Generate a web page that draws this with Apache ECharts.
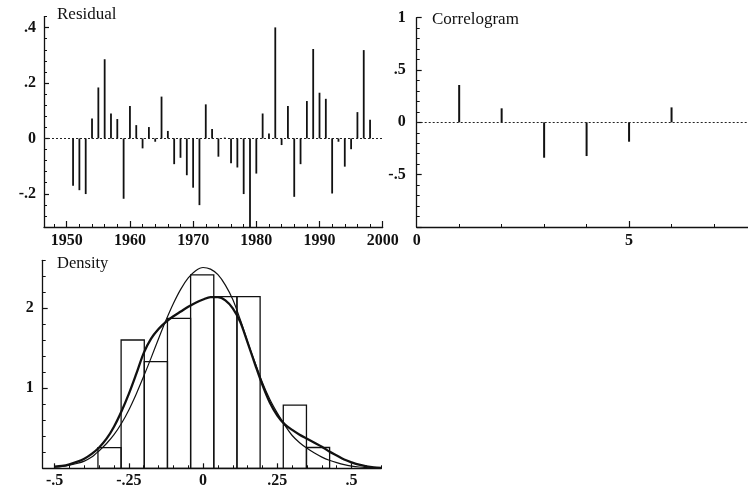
<!DOCTYPE html>
<html><head><meta charset="utf-8">
<script src="https://cdn.jsdelivr.net/npm/echarts@6/dist/echarts.min.js"></script>
<style>html,body{margin:0;padding:0;background:#fff}#c{width:748px;height:491px}</style>
</head><body><div id="c"></div>
<script>
// ---- Residual panel data ----
const years = [1951,1952,1953,1954,1955,1956,1957,1958,1959,1960,1961,1962,1963,1964,1965,1966,1967,1968,1969,1970,1971,1972,1973,1974,1975,1976,1977,1978,1979,1980,1981,1982,1983,1984,1985,1986,1987,1988,1989,1990,1991,1992,1993,1994,1995,1996,1997,1998];
const residuals = [-0.171,-0.187,-0.201,0.072,0.184,0.286,0.090,0.070,-0.218,0.117,0.048,-0.036,0.041,-0.012,0.151,0.027,-0.093,-0.070,-0.133,-0.178,-0.241,0.123,0.034,-0.066,0.003,-0.090,-0.105,-0.201,-0.320,-0.127,0.090,0.018,0.401,-0.024,0.117,-0.211,-0.093,0.135,0.323,0.165,0.143,-0.199,-0.012,-0.102,-0.039,0.095,0.319,0.067];
const residualXTicks = [1950,1960,1970,1980,1990,2000];
const residualYTicks = [-0.2,0,0.2,0.4];

// ---- Correlogram data ----
const lags = [1,2,3,4,5,6];
const acf = [0.357,0.134,-0.338,-0.322,-0.185,0.143];
const corrXTicks = [0,5];
const corrYTicks = [-0.5,0,0.5,1];

// ---- Density data ----
const binEdges = [-0.354,-0.276,-0.198,-0.120,-0.042,0.036,0.114,0.192,0.270,0.348,0.426];
const binHeights = [0.258,1.604,1.333,1.875,2.417,2.146,2.146,0,0.790,0.260];
const curveX  = [-0.5,-0.475,-0.45,-0.425,-0.4,-0.375,-0.35,-0.325,-0.3,-0.275,-0.25,-0.225,-0.2,-0.175,-0.15,-0.125,-0.1,-0.075,-0.05,-0.025,0,0.025,0.05,0.075,0.1,0.125,0.15,0.175,0.2,0.225,0.25,0.275,0.3,0.325,0.35,0.375,0.4,0.425,0.45,0.475,0.5,0.525,0.55,0.575,0.6];
const kernelY = [0.02,0.03,0.05,0.08,0.12,0.18,0.26,0.37,0.52,0.71,0.93,1.18,1.44,1.62,1.74,1.83,1.90,1.96,2.02,2.07,2.11,2.14,2.14,2.10,2.00,1.83,1.57,1.30,1.04,0.82,0.66,0.55,0.48,0.42,0.37,0.32,0.27,0.21,0.16,0.11,0.075,0.045,0.025,0.012,0.005];
const normalY = [0.015,0.025,0.04,0.06,0.09,0.14,0.22,0.31,0.42,0.56,0.73,0.93,1.15,1.38,1.62,1.85,2.06,2.24,2.38,2.47,2.51,2.49,2.42,2.29,2.11,1.86,1.58,1.32,1.07,0.86,0.69,0.54,0.41,0.32,0.25,0.19,0.14,0.10,0.07,0.045,0.028,0.016,0.009,0.005,0.002];
const densXTicks = [-0.5,-0.25,0,0.25,0.5];
const densYTicks = [1,2];

function steps(a, b, s) { const out = []; for (let v = a; v <= b + 1e-9; v += s) out.push(+v.toFixed(4)); return out; }
function fmt(v) {
  if (Math.abs(v) < 1e-9) return '0';
  const s = String(Math.abs(+v.toFixed(4))).replace(/^0\./, '.');
  return (v < 0 ? '-' : '') + s;
}

const FONT = 'Liberation Serif';
const INK = '#111';
const labelStyle = (vals, margin) => ({ show: true, customValues: vals, formatter: fmt, fontFamily: FONT, fontWeight: 'bold', fontSize: 16, color: INK, margin: margin });

function majorAxis(gi, min, max, ticks, labels, tickLen, margin, pos) {
  return {
    type: 'value', gridIndex: gi, min: min, max: max, position: pos,
    axisLine: { show: true, onZero: false, lineStyle: { color: INK, width: 1.3 } },
    axisTick: { show: true, inside: true, length: tickLen, customValues: ticks, lineStyle: { color: INK, width: 1.2 } },
    axisLabel: labelStyle(labels, margin),
    splitLine: { show: false }
  };
}
function minorAxis(gi, min, max, ticks, pos) {
  return {
    type: 'value', gridIndex: gi, min: min, max: max, position: pos,
    axisLine: { show: false, onZero: false },
    axisTick: { show: true, inside: true, length: 3, customValues: ticks, lineStyle: { color: INK, width: 1 } },
    axisLabel: { show: false },
    splitLine: { show: false }
  };
}

const zeroLine = {
  silent: true, symbol: 'none', label: { show: false },
  lineStyle: { type: [2, 2], color: '#222', width: 1 },
  data: [{ yAxis: 0 }]
};

const titleStyle = (size) => ({ fontFamily: FONT, fontSize: size, fontWeight: 'normal', color: INK });

const option = {
  animation: false,
  backgroundColor: '#fff',
  title: [
    { text: 'Residual', left: 57, top: 6, padding: 0, textStyle: titleStyle(17) },
    { text: 'Correlogram', left: 432, top: 11, padding: 0, textStyle: titleStyle(17) },
    { text: 'Density', left: 57, top: 255, padding: 0, textStyle: titleStyle(16.5) }
  ],
  grid: [
    { left: 44, top: 16.6, width: 338.7, height: 210.4, containLabel: false },
    { left: 416.7, top: 17.7, width: 331.3, height: 209.3, containLabel: false },
    { left: 42.7, top: 260.3, width: 338.6, height: 208, containLabel: false }
  ],
  xAxis: [
    majorAxis(0, 1946.4, 2000, residualXTicks, residualXTicks, 6, 6, 'bottom'),
    minorAxis(0, 1946.4, 2000, steps(1948, 2000, 2), 'bottom'),
    majorAxis(1, 0, 7.8, [5], corrXTicks, 6, 6, 'bottom'),
    minorAxis(1, 0, 7.8, [1, 2, 3, 4, 6, 7], 'bottom'),
    majorAxis(2, -0.54, 0.6, densXTicks, densXTicks, 5, 5, 'bottom'),
    minorAxis(2, -0.54, 0.6, steps(-0.5, 0.6, 0.05), 'bottom')
  ],
  yAxis: [
    majorAxis(0, -0.32, 0.44, residualYTicks, residualYTicks, 5, 8, 'left'),
    minorAxis(0, -0.32, 0.44, steps(-0.32, 0.44, 0.04), 'left'),
    majorAxis(1, -1, 1, [-1, -0.5, 0, 0.5, 1], corrYTicks, 5, 11, 'left'),
    minorAxis(1, -1, 1, steps(-1, 1, 0.1), 'left'),
    majorAxis(2, 0, 2.6, densYTicks, densYTicks, 5, 9, 'left'),
    minorAxis(2, 0, 2.6, steps(0, 2.6, 0.2), 'left')
  ],
  series: [
    {
      type: 'bar', xAxisIndex: 0, yAxisIndex: 0, barWidth: 1.8,
      itemStyle: { color: INK }, silent: true,
      data: years.map((y, i) => [y, residuals[i]]),
      markLine: zeroLine
    },
    {
      type: 'bar', xAxisIndex: 2, yAxisIndex: 2, barWidth: 2,
      itemStyle: { color: INK }, silent: true,
      data: lags.map((l, i) => [l, acf[i]]),
      markLine: zeroLine
    },
    {
      type: 'custom', xAxisIndex: 4, yAxisIndex: 4, silent: true,
      data: binHeights.map((h, i) => [binEdges[i], binEdges[i + 1], h]),
      renderItem: function (params, api) {
        const p0 = api.coord([api.value(0), api.value(2)]);
        const p1 = api.coord([api.value(1), 0]);
        return {
          type: 'rect',
          shape: { x: p0[0], y: p0[1], width: p1[0] - p0[0], height: p1[1] - p0[1] },
          style: { fill: 'none', stroke: INK, lineWidth: 1.3 }
        };
      }
    },
    {
      type: 'line', xAxisIndex: 4, yAxisIndex: 4, smooth: 0.3, showSymbol: false, silent: true,
      lineStyle: { color: INK, width: 1.2 },
      data: curveX.map((x, i) => [x, normalY[i]])
    },
    {
      type: 'line', xAxisIndex: 4, yAxisIndex: 4, smooth: 0.3, showSymbol: false, silent: true,
      lineStyle: { color: INK, width: 2.3 },
      data: curveX.map((x, i) => [x, kernelY[i]])
    }
  ]
};

const chart = echarts.init(document.getElementById('c'), null, { renderer: 'canvas' });
chart.setOption(option);
</script>
</body></html>
